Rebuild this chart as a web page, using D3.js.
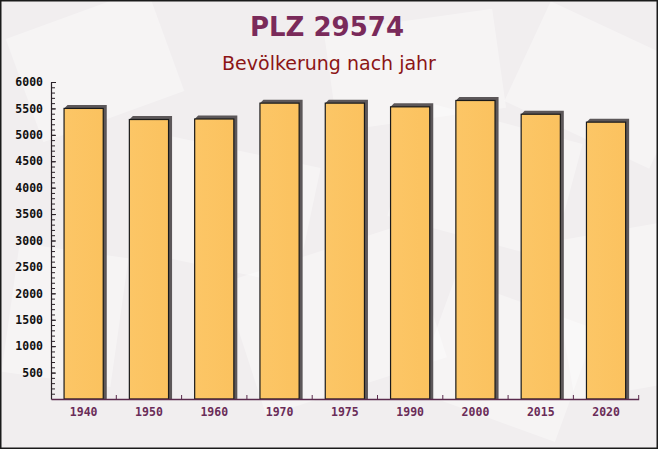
<!DOCTYPE html>
<html>
<head>
<meta charset="utf-8">
<script src="https://cdn.jsdelivr.net/npm/d3@7.9.0/dist/d3.min.js"></script>
<style>
  html, body { margin: 0; padding: 0; background: #fff; }
  svg { display: block; }
</style>
</head>
<body>
<svg id="chart" width="658" height="449"></svg>
<script>
// data
const years = ['1940', '1950', '1960', '1970', '1975', '1990', '2000', '2015', '2020'];
const population = [5500, 5290, 5300, 5600, 5600, 5530, 5650, 5390, 5240];
const yTicks = [500, 1000, 1500, 2000, 2500, 3000, 3500, 4000, 4500, 5000, 5500, 6000];

const title = 'PLZ 29574';
const subtitle = 'Bevölkerung nach jahr';

const W = 658, H = 449;
const svg = d3.select('#chart');

// background with faint envelope shapes
svg.append('rect').attr('width', W).attr('height', H).attr('fill', '#f1eeef');
const deco = [
  [20, 10, 150, 110, -20], [150, 150, 160, 120, 12], [240, 250, 190, 140, -18],
  [400, 120, 170, 120, 15], [520, 30, 160, 110, 25], [560, 230, 130, 160, -10],
  [10, 250, 110, 130, 8], [330, 20, 170, 100, -8], [430, 300, 150, 120, 20]
];
svg.append('g').selectAll('rect').data(deco).join('rect')
  .attr('x', d => d[0]).attr('y', d => d[1])
  .attr('width', d => d[2]).attr('height', d => d[3])
  .attr('transform', d => `rotate(${d[4]},${d[0] + d[2] / 2},${d[1] + d[3] / 2})`)
  .attr('fill', '#ffffff').attr('opacity', 0.35);

// titles
svg.append('text').attr('x', 327).attr('y', 36)
  .attr('text-anchor', 'middle')
  .attr('font-family', 'DejaVu Sans').attr('font-weight', 'bold').attr('font-size', 26)
  .attr('fill', '#7a2a5a').text(title);
svg.append('text').attr('x', 329).attr('y', 70)
  .attr('text-anchor', 'middle')
  .attr('font-family', 'DejaVu Sans').attr('font-size', 19)
  .attr('fill', '#8c1515').text(subtitle);

// scales
const x = d3.scaleBand().domain(years).range([51, 638.7]).paddingInner(0.4).paddingOuter(0.2);
const y = d3.scaleLinear().domain([0, 6000]).range([399, 82]);

const data = years.map((yr, i) => ({ year: yr, value: population[i] }));

// defs: bar gradient
const defs = svg.append('defs');
const grad = defs.append('linearGradient').attr('id', 'barGrad').attr('x1', 0).attr('x2', 1).attr('y1', 0).attr('y2', 0);
grad.append('stop').attr('offset', '0%').attr('stop-color', '#fcc666');
grad.append('stop').attr('offset', '100%').attr('stop-color', '#fbc25f');

// shadows (3d look)
const off = 3.5;
svg.append('g').selectAll('polygon').data(data).join('polygon')
  .attr('points', d => {
    const x0 = x(d.year), x1 = x(d.year) + x.bandwidth(), yt = y(d.value), yb = y(0);
    return [[x0, yt], [x0 + off, yt - off], [x1 + off, yt - off], [x1 + off, yb], [x1, yb]].join(' ');
  })
  .attr('fill', '#5c5759');

// bars
svg.append('g').selectAll('rect').data(data).join('rect')
  .attr('x', d => x(d.year))
  .attr('y', d => y(d.value))
  .attr('width', x.bandwidth())
  .attr('height', d => y(0) - y(d.value))
  .attr('fill', 'url(#barGrad)')
  .attr('stroke', '#1a1a1a').attr('stroke-width', 1.2);

// y axis: minor ticks
const minor = d3.range(100, 6001, 100);
svg.append('g').attr('transform', 'translate(51,0)')
  .call(d3.axisLeft(y).tickValues(minor).tickSizeInner(-4).tickSizeOuter(0).tickFormat(''))
  .call(g => g.selectAll('line').attr('stroke', '#2a2228'))
  .call(g => g.select('.domain').attr('stroke', '#2a2228').attr('stroke-width', 1.2));

// y axis: major ticks + labels
svg.append('g').attr('transform', 'translate(51,0)')
  .call(d3.axisLeft(y).tickValues(yTicks).tickSizeInner(-5).tickSizeOuter(0).tickPadding(8).tickFormat(d3.format('d')))
  .call(g => g.select('.domain').remove())
  .call(g => g.selectAll('line').attr('stroke', '#2a2228'))
  .call(g => g.selectAll('text')
    .attr('font-family', 'DejaVu Sans Mono').attr('font-weight', 'bold').attr('font-size', 11.5)
    .attr('fill', '#111'));

// x axis
const xAxis = svg.append('g').attr('transform', `translate(0,${y(0)})`)
  .call(d3.axisBottom(x).tickSize(0).tickPadding(9))
  .call(g => g.select('.domain').attr('stroke', '#5a2a4c').attr('stroke-width', 1.5))
  .call(g => g.selectAll('text')
    .attr('font-family', 'DejaVu Sans Mono').attr('font-weight', 'bold').attr('font-size', 11.5)
    .attr('fill', '#6a2c58'));

// x boundary ticks between bands
const bounds = years.slice(1).map(yr => x(yr) - x.step() * x.paddingInner() / 2).concat([x.range()[1]]);
xAxis.selectAll('line.bound').data(bounds).join('line').attr('class', 'bound')
  .attr('x1', d => d).attr('x2', d => d).attr('y1', 0).attr('y2', -4)
  .attr('stroke', '#5a2a4c');

// frame
svg.append('rect').attr('x', 0.75).attr('y', 0.75).attr('width', W - 1.5).attr('height', H - 1.5)
  .attr('fill', 'none').attr('stroke', '#1a1a1a').attr('stroke-width', 1.5);
</script>
</body>
</html>
